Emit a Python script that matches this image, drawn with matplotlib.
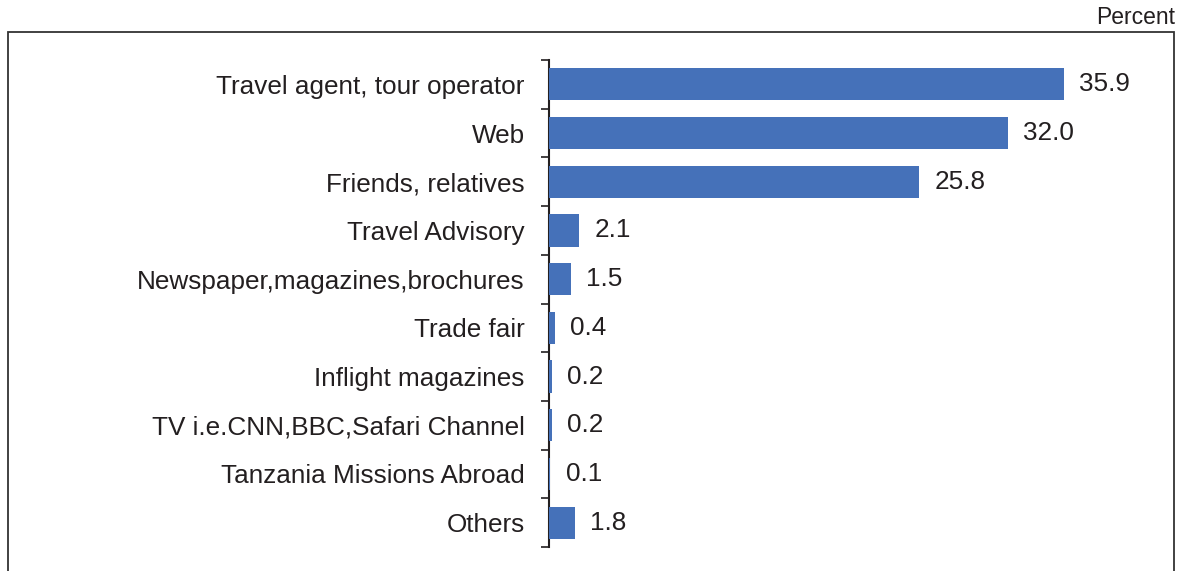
import matplotlib.pyplot as plt
from matplotlib.patches import Rectangle

plt.rcParams['font.family'] = ['Liberation Sans', 'DejaVu Sans']

sources = [
    "Travel agent, tour operator",
    "Web",
    "Friends, relatives",
    "Travel Advisory",
    "Newspaper,magazines,brochures",
    "Trade fair",
    "Inflight magazines",
    "TV i.e.CNN,BBC,Safari Channel",
    "Tanzania Missions Abroad",
    "Others",
]
shares = [35.9, 32.0, 25.8, 2.1, 1.5, 0.4, 0.2, 0.2, 0.1, 1.8]

W, H = 1186, 571
txtcol = '#231f20'
barcol = '#4571b9'
fs = 18.8

fig = plt.figure(figsize=(W / 100, H / 100), dpi=100)

# frame round the chart, open at the bottom
fig.add_artist(Rectangle((8 / W, -0.1), (1174 - 8) / W, 1.1 - 32 / H,
                         transform=fig.transFigure, fill=False,
                         edgecolor='#333333', linewidth=1.3))

ax = fig.add_axes([549 / W, (H - 547) / H, 574 / W, 487 / H])
ypos = list(range(len(sources)))
ax.barh(ypos, shares, height=0.66, color=barcol, edgecolor='none', zorder=3)

for y, v in zip(ypos, shares):
    ax.text(v + 1.05, y, f'{v:.1f}', va='center', ha='left',
            fontsize=fs, color=txtcol)

ax.set_xlim(0, 40)
ax.set_ylim(len(sources) - 0.5, -0.5)
ax.set_yticks(ypos)
ax.set_yticklabels(sources, fontsize=fs, color=txtcol)
ax.set_yticks([i - 0.5 for i in range(len(sources) + 1)], minor=True)
ax.tick_params(axis='y', which='major', length=0, pad=17.5)
ax.tick_params(axis='y', which='minor', length=6, width=1.2,
               direction='out', color='#231f20')
ax.set_xticks([])
for side in ['top', 'right', 'bottom']:
    ax.spines[side].set_visible(False)
ax.spines['left'].set_linewidth(1.5)
ax.spines['left'].set_color('#231f20')

fig.text(1175 / W, 1 - 18 / H, 'Percent', ha='right', va='center',
         fontsize=16.5, color=txtcol)

fig.savefig('out.png', dpi=100)
